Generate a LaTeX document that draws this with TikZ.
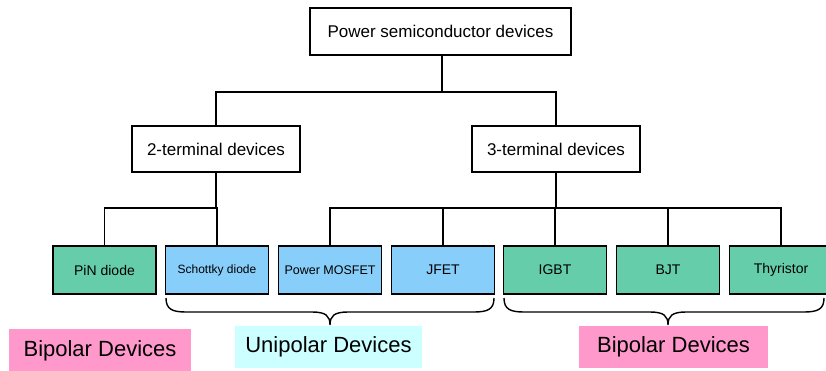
\documentclass[tikz,border=0pt]{standalone}
\usepackage{fontspec}
\setmainfont{Liberation Sans}
\definecolor{greenbox}{RGB}{102,205,170}
\definecolor{bluebox}{RGB}{135,206,250}
\definecolor{pinklab}{RGB}{255,153,204}
\definecolor{cyanlab}{RGB}{204,255,255}
\tikzset{
  topbox/.style={draw=black, line width=1.3pt, fill=white, minimum height=47pt, inner sep=0pt, font=\fontsize{17}{20}\selectfont},
  devbox/.style={draw=black, line width=1.3pt, minimum width=103pt, minimum height=48pt, inner sep=0pt},
  bip/.style={devbox, fill=greenbox},
  uni/.style={devbox, fill=bluebox},
  link/.style={draw=black, line width=1.3pt},
  brc/.style={draw=black, line width=1.4pt},
  lab/.style={inner sep=0pt, font=\fontsize{22}{26}\selectfont}
}
\begin{document}
\begin{tikzpicture}[x=1pt,y=-1pt]
\useasboundingbox (0,0) rectangle (826,370);
\begin{scope}
\clip (0,0) rectangle (826,370);
% top levels
\node[topbox, minimum width=261pt] (root) at (440.5,31.5) {Power semiconductor devices};
\node[topbox, minimum width=168pt, minimum height=46pt] (two) at (216,149) {2-terminal devices};
\node[topbox, minimum width=168pt, minimum height=46pt] (three) at (556,149) {3-terminal devices};
% devices
\node[bip] (pin) at (104.5,270) {\fontsize{14}{16}\selectfont PiN diode};
\node[uni] (sch) at (217,270) {\fontsize{12}{14}\selectfont Schottky diode};
\node[uni] (mos) at (330,270) {\fontsize{12.5}{14}\selectfont Power MOSFET};
\node[uni] (jfet) at (443,270) {\fontsize{14}{16}\selectfont JFET};
\node[bip] (igbt) at (555,270) {\fontsize{14}{16}\selectfont IGBT};
\node[bip] (bjt) at (668,270) {\fontsize{14}{16}\selectfont BJT};
\node[bip] (thy) at (781,270) {\fontsize{14}{16}\selectfont Thyristor};
% connectors
\coordinate (j1) at (442,92);
\draw[link] (root.south -| j1) -- (j1);
\draw[link] (two.north) |- (j1) -| (three.north);
\coordinate (j2) at (216,208);
\draw[link] (two.south) -- (j2);
\draw[link] (pin.north) |- (j2) -| (sch.north);
\coordinate (j3) at (556,208);
\draw[link] (three.south) -- (j3);
\draw[link] (mos.north) |- (j3) -| (thy.north);
\draw[link] (jfet.north) -- (jfet.north |- j3);
\draw[link] (igbt.north) -- (igbt.north |- j3);
\draw[link] (bjt.north) -- (bjt.north |- j3);
% braces
\draw[brc] (166,298) .. controls (166,309) and (172,312) .. (186,312) -- (312,312)
  .. controls (326,312) and (330,316) .. (330,325)
  .. controls (330,316) and (334,312) .. (348,312) -- (474,312)
  .. controls (488,312) and (494,309) .. (494,298);
\draw[brc] (504,298) .. controls (504,309) and (510,312) .. (524,312) -- (650,312)
  .. controls (664,312) and (668,316) .. (668,325)
  .. controls (668,316) and (672,312) .. (686,312) -- (804,312)
  .. controls (818,312) and (824,309) .. (824,298);
% labels
\node[lab, fill=pinklab, minimum width=182pt, minimum height=44pt] (lb1) at (100,351) {Bipolar Devices};
\node[lab, fill=cyanlab, minimum width=187pt, minimum height=42pt] (lb2) at (328.5,347) {Unipolar Devices};
\node[lab, fill=pinklab, minimum width=189pt, minimum height=42pt] (lb3) at (673.5,347) {Bipolar Devices};
\end{scope}
\end{tikzpicture}
\end{document}
